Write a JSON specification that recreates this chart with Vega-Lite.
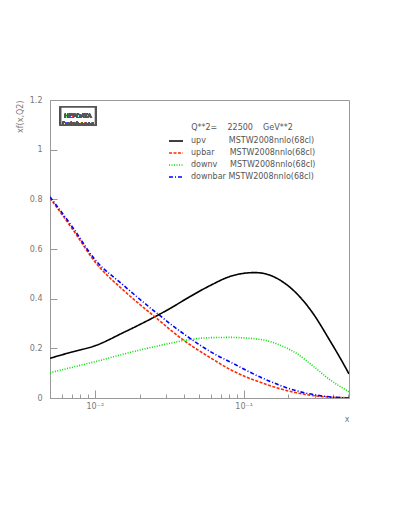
{
  "$schema": "https://vega.github.io/schema/vega-lite/v6.json",
  "autosize": "none",
  "padding": {"left": 50, "top": 100, "right": 62, "bottom": 134},
  "width": 299,
  "height": 298,
  "background": "white",
  "config": {
    "font": "DejaVu Sans",
    "view": {"stroke": "#999", "strokeWidth": 1}
  },
  "data": {"values": [
    {"series": "upv", "x": 0.005, "y": 0.16},
    {"series": "upv", "x": 0.007, "y": 0.185},
    {"series": "upv", "x": 0.01, "y": 0.21},
    {"series": "upv", "x": 0.0155, "y": 0.263},
    {"series": "upv", "x": 0.0253, "y": 0.327},
    {"series": "upv", "x": 0.0319, "y": 0.36},
    {"series": "upv", "x": 0.0435, "y": 0.408},
    {"series": "upv", "x": 0.0605, "y": 0.455},
    {"series": "upv", "x": 0.0805, "y": 0.489},
    {"series": "upv", "x": 0.1, "y": 0.502},
    {"series": "upv", "x": 0.1186, "y": 0.505},
    {"series": "upv", "x": 0.14, "y": 0.5},
    {"series": "upv", "x": 0.175, "y": 0.475},
    {"series": "upv", "x": 0.226, "y": 0.422},
    {"series": "upv", "x": 0.292, "y": 0.341},
    {"series": "upv", "x": 0.377, "y": 0.234},
    {"series": "upv", "x": 0.44, "y": 0.166},
    {"series": "upv", "x": 0.51, "y": 0.097},
    {"series": "upbar", "x": 0.005, "y": 0.805},
    {"series": "upbar", "x": 0.00714, "y": 0.677},
    {"series": "upbar", "x": 0.01, "y": 0.549},
    {"series": "upbar", "x": 0.0155, "y": 0.435},
    {"series": "upbar", "x": 0.0253, "y": 0.327},
    {"series": "upbar", "x": 0.0392, "y": 0.234},
    {"series": "upbar", "x": 0.0605, "y": 0.16},
    {"series": "upbar", "x": 0.0805, "y": 0.116},
    {"series": "upbar", "x": 0.135, "y": 0.059},
    {"series": "upbar", "x": 0.226, "y": 0.021},
    {"series": "upbar", "x": 0.35, "y": 0.005},
    {"series": "upbar", "x": 0.51, "y": 0.001},
    {"series": "downv", "x": 0.005, "y": 0.102},
    {"series": "downv", "x": 0.01, "y": 0.146},
    {"series": "downv", "x": 0.02, "y": 0.193},
    {"series": "downv", "x": 0.0319, "y": 0.22},
    {"series": "downv", "x": 0.0392, "y": 0.231},
    {"series": "downv", "x": 0.0605, "y": 0.243},
    {"series": "downv", "x": 0.0805, "y": 0.244},
    {"series": "downv", "x": 0.135, "y": 0.234},
    {"series": "downv", "x": 0.175, "y": 0.213},
    {"series": "downv", "x": 0.226, "y": 0.18},
    {"series": "downv", "x": 0.292, "y": 0.129},
    {"series": "downv", "x": 0.377, "y": 0.075},
    {"series": "downv", "x": 0.51, "y": 0.025},
    {"series": "downbar", "x": 0.005, "y": 0.81},
    {"series": "downbar", "x": 0.00714, "y": 0.685},
    {"series": "downbar", "x": 0.01, "y": 0.558},
    {"series": "downbar", "x": 0.0155, "y": 0.455},
    {"series": "downbar", "x": 0.0253, "y": 0.348},
    {"series": "downbar", "x": 0.0392, "y": 0.26},
    {"series": "downbar", "x": 0.0656, "y": 0.173},
    {"series": "downbar", "x": 0.0805, "y": 0.146},
    {"series": "downbar", "x": 0.135, "y": 0.079},
    {"series": "downbar", "x": 0.226, "y": 0.029},
    {"series": "downbar", "x": 0.35, "y": 0.007},
    {"series": "downbar", "x": 0.51, "y": 0.0}
  ]},
  "layer": [
    {
      "mark": {"type": "line", "interpolate": "monotone", "strokeWidth": 1.6, "clip": true},
      "encoding": {
        "x": {
          "field": "x", "type": "quantitative",
          "scale": {"type": "log", "domain": [0.005, 0.51], "nice": false},
          "axis": {
            "title": "x", "titleAnchor": "end", "titleFontSize": 8, "titleFontWeight": "normal", "titleColor": "#777", "titlePadding": 1,
            "values": [0.005, 0.006, 0.007, 0.008, 0.009, 0.01, 0.02, 0.03, 0.04, 0.05, 0.06, 0.07, 0.08, 0.09, 0.1, 0.2, 0.3, 0.4, 0.5],
            "labelExpr": "datum.value == 0.01 ? '10⁻²' : (datum.value == 0.1 ? '10⁻¹' : '')",
            "labelFontSize": 8, "labelColor": "#777", "labelPadding": 12, "labelOverlap": false, "labelFlush": false,
            "domainColor": "#999", "tickColor": "#999", "grid": false,
            "tickSize": {"condition": {"test": "datum.value == 0.01 || datum.value == 0.1", "value": -8}, "value": -4}
          }
        },
        "y": {
          "field": "y", "type": "quantitative",
          "scale": {"domain": [0, 1.2], "nice": false},
          "axis": {
            "title": "xf(x,Q2)", "titleAngle": -90, "titleX": -30, "titleY": 0, "titleAlign": "right", "titleBaseline": "middle",
            "titleFontSize": 8, "titleFontWeight": "normal", "titleColor": "#777",
            "values": [0, 0.05, 0.1, 0.15, 0.2, 0.25, 0.3, 0.35, 0.4, 0.45, 0.5, 0.55, 0.6, 0.65, 0.7, 0.75, 0.8, 0.85, 0.9, 0.95, 1, 1.05, 1.1, 1.15, 1.2],
            "format": ".1~f",
            "labelExpr": "abs(datum.value*5 - round(datum.value*5)) < 0.001 ? datum.label : ''",
            "labelFontSize": 8, "labelColor": "#777", "labelPadding": 15, "labelOverlap": false, "labelFlush": false,
            "domainColor": "#999", "tickColor": "#999", "grid": false,
            "tickSize": {"condition": {"test": "abs(datum.value*5 - round(datum.value*5)) < 0.001", "value": -7}, "value": -4}
          }
        },
        "color": {
          "field": "series", "type": "nominal",
          "scale": {"domain": ["upv", "upbar", "downv", "downbar"], "range": ["#000000", "#ff2a00", "#00e000", "#0000ff"]},
          "legend": {
            "title": "Q**2=\u00a0\u00a0\u00a0\u00a022500\u00a0\u00a0\u00a0\u00a0GeV**2",
            "orient": "none", "legendX": 118, "legendY": 24,
            "titleFontSize": 8, "titleFontWeight": "normal", "titleColor": "#555", "titlePadding": 1,
            "titleAnchor": "middle", "titleAlign": "center",
            "symbolType": "stroke", "symbolSize": 196, "symbolStrokeWidth": 1.6,
            "labelFontSize": 8, "labelColor": "#555", "labelOffset": 7, "rowPadding": -2,
            "labelExpr": "datum.label == 'upv' ? 'upv\u00a0\u00a0\u00a0\u00a0\u00a0\u00a0\u00a0\u00a0\u00a0MSTW2008nnlo(68cl)' : (datum.label == 'upbar' ? 'upbar\u00a0\u00a0\u00a0\u00a0\u00a0\u00a0MSTW2008nnlo(68cl)' : (datum.label == 'downv' ? 'downv\u00a0\u00a0\u00a0\u00a0\u00a0MSTW2008nnlo(68cl)' : 'downbar\u00a0MSTW2008nnlo(68cl)'))"
          }
        },
        "strokeDash": {
          "field": "series", "type": "nominal",
          "scale": {"domain": ["upv", "upbar", "downv", "downbar"], "range": [[1, 0], [3, 1.5], [1, 1.5], [4, 2, 1, 2]]},
          "legend": {
            "title": "Q**2=\u00a0\u00a0\u00a0\u00a022500\u00a0\u00a0\u00a0\u00a0GeV**2"
          }
        }
      }
    },
    {
      "mark": {"type": "rect", "fill": "white", "stroke": "#555", "strokeWidth": 1.5},
      "encoding": {
        "x": {"datum": 0.0059, "type": "quantitative"},
        "x2": {"datum": 0.0101},
        "y": {"datum": 1.172, "type": "quantitative"},
        "y2": {"datum": 1.099}
      }
    },
    {
      "mark": {"type": "text", "fontSize": 6, "fill": "#555", "lineBreak": "\n", "lineHeight": 8, "align": "center", "baseline": "middle"},
      "encoding": {
        "x": {"datum": 0.0077, "type": "quantitative"},
        "y": {"datum": 1.136, "type": "quantitative"},
        "text": {"value": "HEPDATA\nDatabases"}
      }
    }
  ]
}
